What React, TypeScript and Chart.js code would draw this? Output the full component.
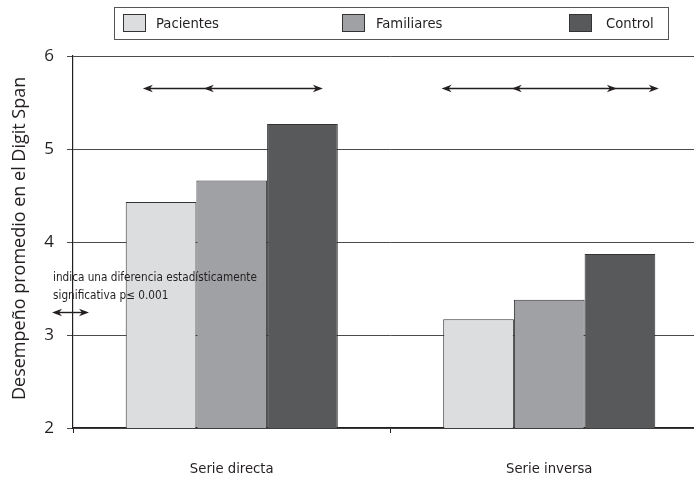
import React, { useEffect, useRef } from 'react';
import { Chart, registerables } from 'chart.js';

Chart.register(...registerables);

const categories = ['Serie directa', 'Serie inversa'];
const seriesNames = ['Pacientes', 'Familiares', 'Control'];
const pacientes = [4.43, 3.17];
const familiares = [4.66, 3.38];
const control = [5.27, 3.87];
const seriesColors = ['#dcdddf', '#a0a1a4', '#58595b'];
const yTicks = [2, 3, 4, 5, 6];
const yTitle = 'Desempeño promedio en el Digit Span';
const noteLines = ['indica una diferencia estadísticamente', 'significativa p≤ 0.001'];

// significance arrows: offsets (in category widths) of arrow tips around each category centre
const arrowLevel = 5.66;
const arrowGroups = [
  { cat: 0, leftHeads: [-0.28, -0.088], rightHeads: [0.287] },
  { cat: 1, leftHeads: [-0.339, -0.118], rightHeads: [0.213, 0.345] },
];

const NARROW = "'Liberation Sans Narrow', 'DejaVu Sans Condensed', 'Roboto Condensed', sans-serif";
const SANS = "'Open Sans', sans-serif";
const INK = '#231f20';

function fitFont(ctx: CanvasRenderingContext2D, text: string, family: string, target: number, base: number, maxSize: number) {
  ctx.font = `${base}px ${family}`;
  const w = ctx.measureText(text).width || target;
  const size = Math.min(maxSize, (base * target) / w);
  ctx.font = `${size.toFixed(2)}px ${family}`;
}

function drawHead(ctx: CanvasRenderingContext2D, tipX: number, y: number, dir: number) {
  // dir: -1 points left, +1 points right
  ctx.beginPath();
  ctx.moveTo(tipX, y);
  ctx.lineTo(tipX - dir * 10, y - 3.8);
  ctx.lineTo(tipX - dir * 7, y);
  ctx.lineTo(tipX - dir * 10, y + 3.8);
  ctx.closePath();
  ctx.fill();
}

const overlayPlugin = {
  id: 'overlay',
  afterDraw(chart: any) {
    const ctx: CanvasRenderingContext2D = chart.ctx;
    const xs = chart.scales.x;
    const ys = chart.scales.y;
    ctx.save();

    // legend box
    ctx.strokeStyle = '#555';
    ctx.lineWidth = 1;
    ctx.strokeRect(114.5, 7.5, 554, 32);
    const swatchX = [123, 342, 569];
    const textX = [156, 376, 606];
    fitFont(ctx, 'Pacientes', NARROW, 63, 15, 16);
    ctx.textBaseline = 'middle';
    ctx.textAlign = 'left';
    chart.data.datasets.forEach((ds: any, i: number) => {
      ctx.fillStyle = ds.backgroundColor;
      ctx.fillRect(swatchX[i], 14, 23, 18);
      ctx.strokeStyle = '#333';
      ctx.strokeRect(swatchX[i] + 0.5, 14.5, 22, 17);
      ctx.fillStyle = INK;
      ctx.fillText(ds.label, textX[i], 24);
    });

    // y-axis title (spans from y=400 up to y=60)
    ctx.save();
    ctx.translate(20, 400);
    ctx.rotate(-Math.PI / 2);
    fitFont(ctx, yTitle, SANS, 340, 17, 18);
    ctx.textAlign = 'left';
    ctx.textBaseline = 'middle';
    ctx.fillStyle = INK;
    ctx.fillText(yTitle, 0, 0);
    ctx.restore();

    // significance arrows
    const catW = xs.getPixelForValue(1) - xs.getPixelForValue(0);
    const ay = Math.round(ys.getPixelForValue(arrowLevel)) + 0.5;
    ctx.fillStyle = INK;
    ctx.strokeStyle = INK;
    ctx.lineWidth = 1.4;
    arrowGroups.forEach((g) => {
      const c = xs.getPixelForValue(g.cat);
      const lefts = g.leftHeads.map((o) => c + o * catW);
      const rights = g.rightHeads.map((o) => c + o * catW);
      const all = lefts.concat(rights);
      ctx.beginPath();
      ctx.moveTo(Math.min(...all) + 4, ay);
      ctx.lineTo(Math.max(...all) - 4, ay);
      ctx.stroke();
      lefts.forEach((x) => drawHead(ctx, x, ay, -1));
      rights.forEach((x) => drawHead(ctx, x, ay, 1));
    });

    // note
    fitFont(ctx, noteLines[0], NARROW, 204, 12, 13);
    ctx.textAlign = 'left';
    ctx.textBaseline = 'middle';
    ctx.fillText(noteLines[0], 53, 278);
    ctx.fillText(noteLines[1], 53, 296);
    ctx.beginPath();
    ctx.moveTo(56, 312.5);
    ctx.lineTo(85, 312.5);
    ctx.stroke();
    drawHead(ctx, 52, 312.5, -1);
    drawHead(ctx, 89, 312.5, 1);

    ctx.restore();
  },
};

export default function App() {
  const canvasRef = useRef<HTMLCanvasElement | null>(null);

  useEffect(() => {
    if (!canvasRef.current) return;
    const seriesValues = [pacientes, familiares, control];
    const chart = new Chart(canvasRef.current, {
      type: 'bar',
      data: {
        labels: categories,
        datasets: seriesNames.map((name, i) => ({
          label: name,
          data: seriesValues[i],
          backgroundColor: seriesColors[i],
          borderColor: '#333',
          borderWidth: 1,
          categoryPercentage: 0.668,
          barPercentage: 1,
        })),
      },
      options: {
        animation: false,
        responsive: true,
        maintainAspectRatio: false,
        layout: { padding: { top: 56, right: 4, bottom: 0, left: 0 } },
        plugins: {
          legend: { display: false },
          tooltip: { enabled: false },
        },
        scales: {
          x: {
            type: 'category',
            offset: true,
            border: { display: true, color: INK, width: 1.2 },
            grid: {
              display: true,
              offset: true,
              drawOnChartArea: false,
              drawTicks: true,
              tickLength: 5,
              color: INK,
            },
            ticks: {
              padding: 27,
              color: INK,
              font: { family: NARROW, size: 14.7 },
              maxRotation: 0,
            },
            afterFit: (scale: any) => {
              scale.height = 51;
            },
          },
          y: {
            min: 2,
            max: 6,
            afterBuildTicks: (scale: any) => {
              scale.ticks = yTicks.map((v) => ({ value: v }));
            },
            border: { display: true, color: INK, width: 1.2 },
            grid: {
              color: '#4a4a4a',
              lineWidth: 1,
              tickLength: 6,
              drawTicks: true,
            },
            ticks: {
              padding: 13,
              color: INK,
              font: { family: SANS, size: 17 },
            },
            afterFit: (scale: any) => {
              scale.width = 73;
            },
          },
        },
      },
      plugins: [overlayPlugin],
    });
    return () => chart.destroy();
  }, []);

  return (
    <div
      style={{
        position: 'absolute',
        left: 0,
        top: 0,
        width: 694,
        height: 479,
        overflow: 'hidden',
        background: '#fff',
      }}
    >
      <div style={{ position: 'relative', width: 712, height: 479 }}>
        <canvas ref={canvasRef} />
      </div>
    </div>
  );
}
